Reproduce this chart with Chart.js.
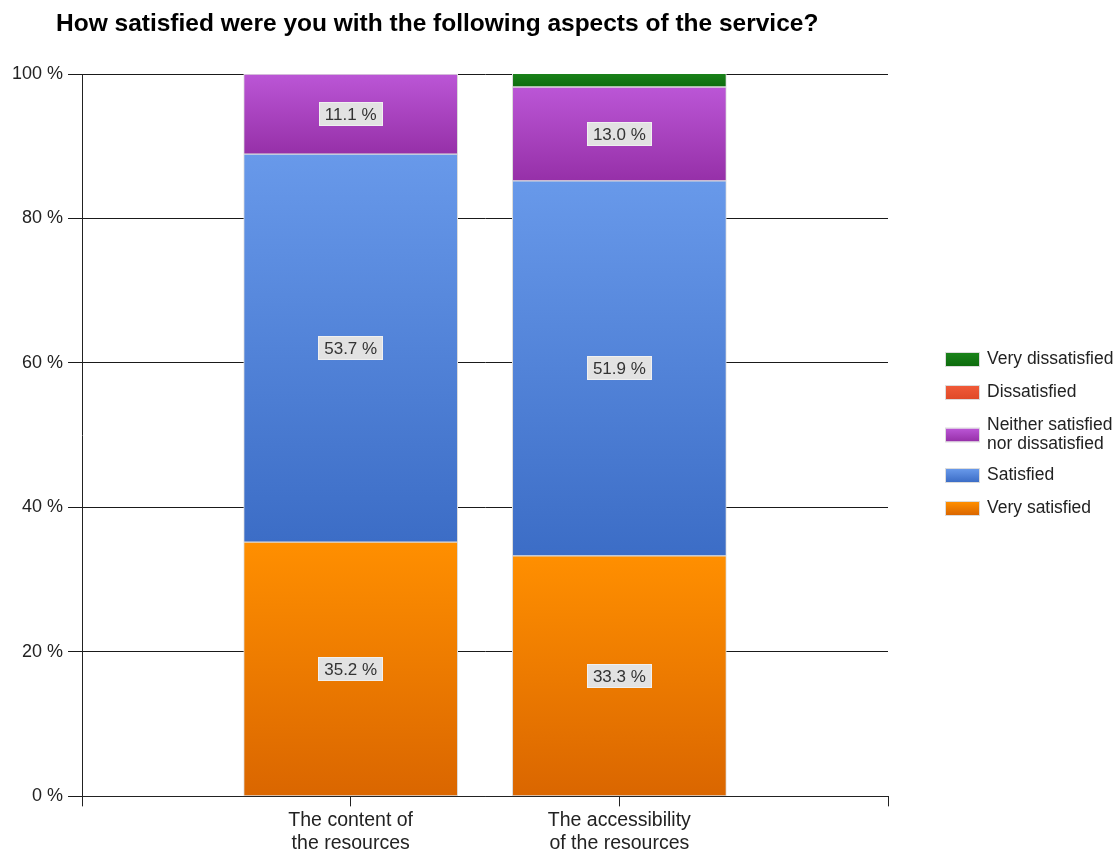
<!DOCTYPE html>
<html>
<head>
<meta charset="utf-8">
<title>Satisfaction with the service</title>
<script src="https://cdn.jsdelivr.net/npm/chart.js@4.4.1/dist/chart.umd.min.js"></script>
<style>
  body { margin: 0; background: #fff; }
  #wrap { width: 1117px; height: 852px; }
</style>
</head>
<body>
<div id="wrap"><canvas id="myChart" width="1117" height="852"></canvas></div>
<script>
const titleText = 'How satisfied were you with the following aspects of the service?';

// two aspects, placed between empty slots at both ends of the axis
const categories = [['The content of', 'the resources'], ['The accessibility', 'of the resources']];

// answer shares in % per aspect
const verySatisfied = [35.2, 33.3];
const satisfied = [53.7, 51.9];
const neither = [11.1, 13.0];
const dissatisfied = [0, 0];
const veryDissatisfied = [0, 1.9];

const seriesNames = ['Very satisfied', 'Satisfied', ['Neither satisfied', 'nor dissatisfied'], 'Dissatisfied', 'Very dissatisfied'];
const yTicks = [0, 20, 40, 60, 80, 100];

// [top, bottom] shades for each series
const shades = [
  ['#ff8f00', '#da6600'],
  ['#6899ea', '#3c6dc6'],
  ['#bb56d6', '#9630a8'],
  ['#f05a38', '#e04a28'],
  ['#1a831a', '#0e6c0e']
];

const labels = [''].concat(categories, ['']);
const pad = arr => [null].concat(arr, [null]);

function segmentFill(c) {
  const sh = shades[c.datasetIndex];
  const chart = c.chart;
  const y = chart.scales.y;
  if (c.type !== 'data' || !y) return sh[1];
  const i = c.dataIndex;
  let base = 0;
  for (let k = 0; k < c.datasetIndex; k++) base += chart.data.datasets[k].data[i] || 0;
  const top = base + (c.raw || 0);
  const y0 = y.getPixelForValue(top), y1 = y.getPixelForValue(base);
  if (!isFinite(y0) || !isFinite(y1) || y0 === y1) return sh[1];
  const g = chart.ctx.createLinearGradient(0, y0, 0, y1);
  g.addColorStop(0, sh[0]);
  g.addColorStop(1, sh[1]);
  return g;
}

const values = [verySatisfied, satisfied, neither, dissatisfied, veryDissatisfied];
const datasets = values.map((v, k) => ({
  label: seriesNames[k],
  data: pad(v),
  backgroundColor: segmentFill,
  borderColor: '#dcdcdc',
  borderWidth: 1,
  borderSkipped: false,
  barThickness: 214
}));

// title drawn left aligned above the plot
const titlePlugin = {
  id: 'titleText',
  afterDraw(chart) {
    const c = chart.ctx;
    c.save();
    c.font = 'bold 24.5px "Liberation Sans", Arial, sans-serif';
    c.fillStyle = '#000';
    c.textBaseline = 'alphabetic';
    c.fillText(titleText, 56, 31);
    c.restore();
  }
};

// grey boxes with the percentage in the middle of each segment
const valueBoxes = {
  id: 'valueBoxes',
  afterDatasetsDraw(chart) {
    const c = chart.ctx;
    c.save();
    c.font = '17px "Liberation Sans", Arial, sans-serif';
    c.textAlign = 'center';
    c.textBaseline = 'middle';
    chart.data.datasets.forEach((ds, d) => {
      chart.getDatasetMeta(d).data.forEach((el, i) => {
        const v = ds.data[i];
        if (v == null || v < 5) return;
        const t = v.toFixed(1) + ' %';
        const cy = Math.round((el.y + el.base) / 2);
        const w = c.measureText(t).width + 12;
        const h = 24;
        c.fillStyle = '#e2e2e2';
        c.fillRect(Math.round(el.x - w / 2), cy - h / 2, Math.round(w), h);
        c.strokeStyle = '#f0f0f0';
        c.lineWidth = 1;
        c.strokeRect(Math.round(el.x - w / 2) + 0.5, cy - h / 2 + 0.5, Math.round(w) - 1, h - 1);
        c.fillStyle = '#333';
        c.fillText(t, el.x, cy + 1);
      });
    });
    c.restore();
  }
};

// legend on the right, last series on top
const sideLegend = {
  id: 'sideLegend',
  afterDraw(chart) {
    const c = chart.ctx;
    c.save();
    c.font = '17.5px "Liberation Sans", Arial, sans-serif';
    c.textBaseline = 'middle';
    let y = 359;
    for (let k = seriesNames.length - 1; k >= 0; k--) {
      const name = seriesNames[k];
      const lines = Array.isArray(name) ? name : [name];
      const mid = y + (lines.length - 1) * 9.5;
      const g = c.createLinearGradient(0, mid - 6, 0, mid + 7);
      g.addColorStop(0, shades[k][0]);
      g.addColorStop(1, shades[k][1]);
      c.fillStyle = g;
      c.fillRect(946, mid - 6, 33, 13);
      c.strokeStyle = '#dcdcdc';
      c.strokeRect(945.5, mid - 6.5, 34, 14);
      c.fillStyle = '#222';
      lines.forEach((ln, j) => c.fillText(ln, 987, y + j * 19));
      y += 33 + (lines.length - 1) * 17;
    }
    c.restore();
  }
};

const ctx = document.getElementById('myChart');
new Chart(ctx, {
  type: 'bar',
  data: { labels: labels, datasets: datasets },
  options: {
    responsive: false,
    animation: false,
    layout: { padding: { left: 7, right: 229, top: 74, bottom: -6 } },
    plugins: {
      legend: { display: false },
      title: { display: false },
      tooltip: { enabled: false }
    },
    scales: {
      x: {
        stacked: true,
        offset: false,
        grid: { offset: false, drawOnChartArea: false, drawTicks: true, tickLength: 10, color: '#222' },
        border: { color: '#222' },
        ticks: {
          color: '#222',
          font: { family: '"Liberation Sans", Arial, sans-serif', size: 19.5, lineHeight: 1.17 },
          maxRotation: 0,
          autoSkip: false,
          padding: 3
        }
      },
      y: {
        stacked: true,
        min: 0,
        max: 100,
        afterBuildTicks: axis => { axis.ticks = yTicks.map(v => ({ value: v })); },
        grid: { color: '#1a1a1a', tickLength: 14 },
        border: { color: '#222' },
        ticks: {
          color: '#222',
          font: { family: '"Liberation Sans", Arial, sans-serif', size: 18 },
          padding: 5,
          callback: v => v + ' %'
        }
      }
    }
  },
  plugins: [titlePlugin, valueBoxes, sideLegend]
});
</script>
</body>
</html>
